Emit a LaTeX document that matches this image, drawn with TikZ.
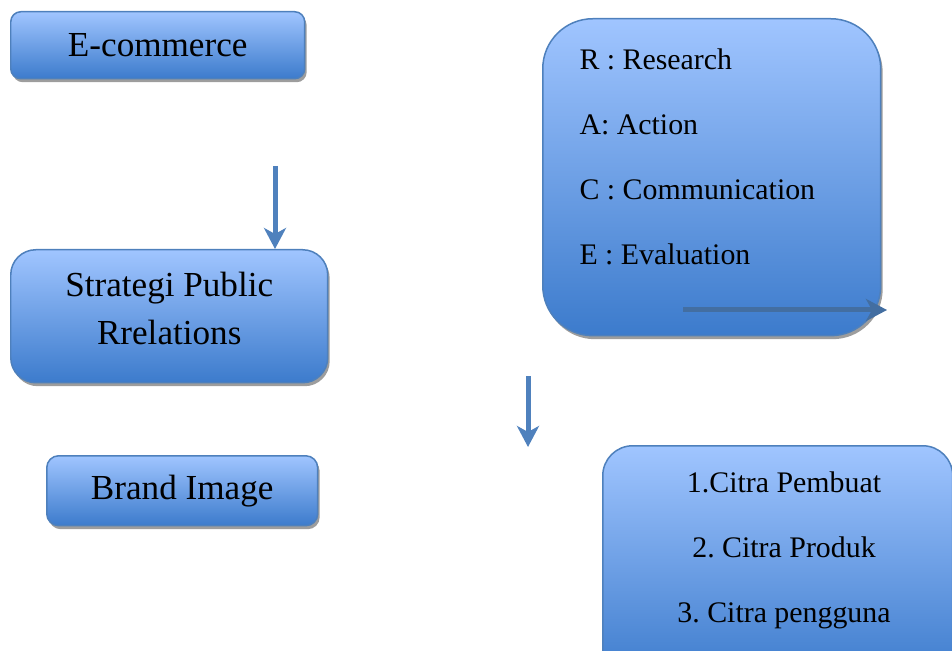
\documentclass[tikz,border=0pt]{standalone}
\usepackage{fontspec}
\setmainfont{Liberation Serif}
\usetikzlibrary{positioning, calc, shadows}
\usetikzlibrary{arrows.meta}
\frenchspacing

\begin{document}
\begin{tikzpicture}[x=0.02cm, y=-0.02cm, >={Stealth[length=0.42cm, width=0.44cm, inset=0.12cm]}, line width=1mm,
    blockbox/.style={draw=boxedge, line width=0.3mm, top color=boxtop, bottom color=boxbottom,
        drop shadow={shadow xshift=0.4mm, shadow yshift=-0.7mm, fill=black!55, opacity=0.7},
        anchor=north west, inner sep=0pt, text=black, align=center},
    bigtext/.style={font=\fontsize{20}{27.3}\selectfont},
    smalltext/.style={font=\fontsize{17}{20}\selectfont, inner sep=0pt}]
        % Define colors
        \definecolor{boxtop}{RGB}{160, 197, 255}
        \definecolor{boxbottom}{RGB}{60, 123, 204}
        \definecolor{boxedge}{RGB}{78, 128, 188}
        \definecolor{arrowblue}{RGB}{79, 129, 189}

        \useasboundingbox (0,0) rectangle (952,651);

        % Nodes
        \node[blockbox, bigtext, rounded corners=0.2cm, minimum width=5.88cm, minimum height=1.34cm] (ecommerce) at (10,11) {E-commerce};
        \node[blockbox, bigtext, rounded corners=0.5cm, minimum width=6.34cm, minimum height=2.66cm, text depth=0.32cm] (strategi) at (10,249) {Strategi Public\\Rrelations};
        \node[blockbox, bigtext, rounded corners=0.24cm, minimum width=5.42cm, minimum height=1.4cm] (brand) at (46,455) {Brand Image};

        \node[blockbox, rounded corners=1cm, minimum width=6.76cm, minimum height=6.34cm] (race) at (542,18) {};
        \node[blockbox, rounded corners=0.6cm, minimum width=7cm, minimum height=4.7cm] (citra) at (602,445) {};

        \foreach \txt [count=\i] in {R : Research, A: Action, C : Communication, E : Evaluation} {
            \node[smalltext, anchor=base west] (race\i) at (577,5+65*\i) {\txt};
        }
        \foreach \txt [count=\i] in {1.Citra Pembuat, 2. Citra Produk, 3. Citra pengguna} {
            \node[smalltext, anchor=base] (citra\i) at (784,427+65*\i) {\txt};
        }

        % Edges
        \coordinate (arrowA) at (275,166);
        \coordinate (arrowB) at (528,376);
        \coordinate (arrowBend) at (528,447);
        \coordinate (arrowC) at (683,310);
        \coordinate (arrowCend) at (887,310);

        \draw[->, draw=arrowblue] (arrowA) -- (arrowA |- strategi.north);
        \draw[->, draw=arrowblue] (arrowB) -- (arrowBend);
        \draw[->, draw=arrowblue!85!black] (arrowC) -- (arrowCend);
    \end{tikzpicture}
\end{document}
